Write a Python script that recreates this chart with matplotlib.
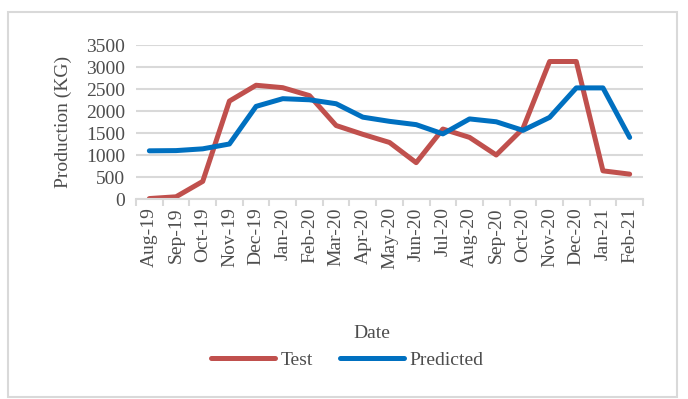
import matplotlib
matplotlib.use("Agg")
import matplotlib.pyplot as plt
from matplotlib.patches import Rectangle
import numpy as np

months = ["Aug-19", "Sep-19", "Oct-19", "Nov-19", "Dec-19", "Jan-20", "Feb-20",
          "Mar-20", "Apr-20", "May-20", "Jun-20", "Jul-20", "Aug-20", "Sep-20",
          "Oct-20", "Nov-20", "Dec-20", "Jan-21", "Feb-21"]
test = [10, 50, 400, 2225, 2585, 2530, 2350, 1670, 1470, 1285, 826, 1590,
        1400, 1000, 1600, 3125, 3125, 640, 565]
predicted = [1095, 1100, 1140, 1250, 2105, 2280, 2255, 2165, 1860, 1765, 1690,
             1480, 1820, 1755, 1560, 1855, 2525, 2525, 1400]
yticks = [0, 500, 1000, 1500, 2000, 2500, 3000, 3500]

plt.rcParams['font.family'] = ['Liberation Serif', 'DejaVu Serif']
txt = '#4d4d4d'
grid = '#d9d9d9'

fig = plt.figure(figsize=(6.88, 3.99), dpi=100)
ax = fig.add_axes([136 / 688, 1 - 199 / 399, (643 - 136) / 688, (199 - 45) / 399])

x = np.arange(len(months))
ax.plot(x, test, color='#c0504d', lw=3.6, solid_joinstyle='round',
        solid_capstyle='round', label='Test')
ax.plot(x, predicted, color='#0070c0', lw=3.6, solid_joinstyle='round',
        solid_capstyle='round', label='Predicted')

ax.set_xlim(-0.5, len(months) - 0.5)
ax.set_ylim(0, 3500)
ax.set_yticks(yticks)
ax.set_yticklabels([str(v) for v in yticks], fontsize=14, color=txt)
ax.tick_params(axis='y', length=0, pad=8)
ax.yaxis.grid(True, color=grid, lw=1.5)
ax.set_axisbelow(True)

# category labels in the middle, tick marks on the boundaries
ax.set_xticks(np.arange(len(months) + 1) - 0.5)
ax.set_xticklabels([])
ax.tick_params(axis='x', which='major', length=5, width=1.5, color=grid)
ax.set_xticks(x, minor=True)
ax.set_xticklabels(months, minor=True, rotation=90, fontsize=14, color=txt)
ax.tick_params(axis='x', which='minor', length=0, pad=6)

for s in ['top', 'right', 'left']:
    ax.spines[s].set_visible(False)
ax.spines['bottom'].set_color(grid)
ax.spines['bottom'].set_linewidth(1.5)

ax.set_ylabel('Production (KG)', fontsize=14, color=txt, labelpad=10)
fig.text(372 / 688, 1 - 333 / 399, 'Date', fontsize=14, color=txt,
         ha='center', va='center')

fig.legend(loc='center', bbox_to_anchor=(347 / 688, 1 - 360 / 399), ncol=2,
           frameon=False, fontsize=14, handlelength=3.3, handletextpad=0.26,
           columnspacing=1.4, labelcolor=txt)

fig.patches.append(Rectangle((8 / 688, 1 - 397 / 399), 669 / 688, 385 / 399,
                             transform=fig.transFigure, fill=False,
                             edgecolor=grid, lw=1.5))

fig.savefig('out.png', dpi=100)
